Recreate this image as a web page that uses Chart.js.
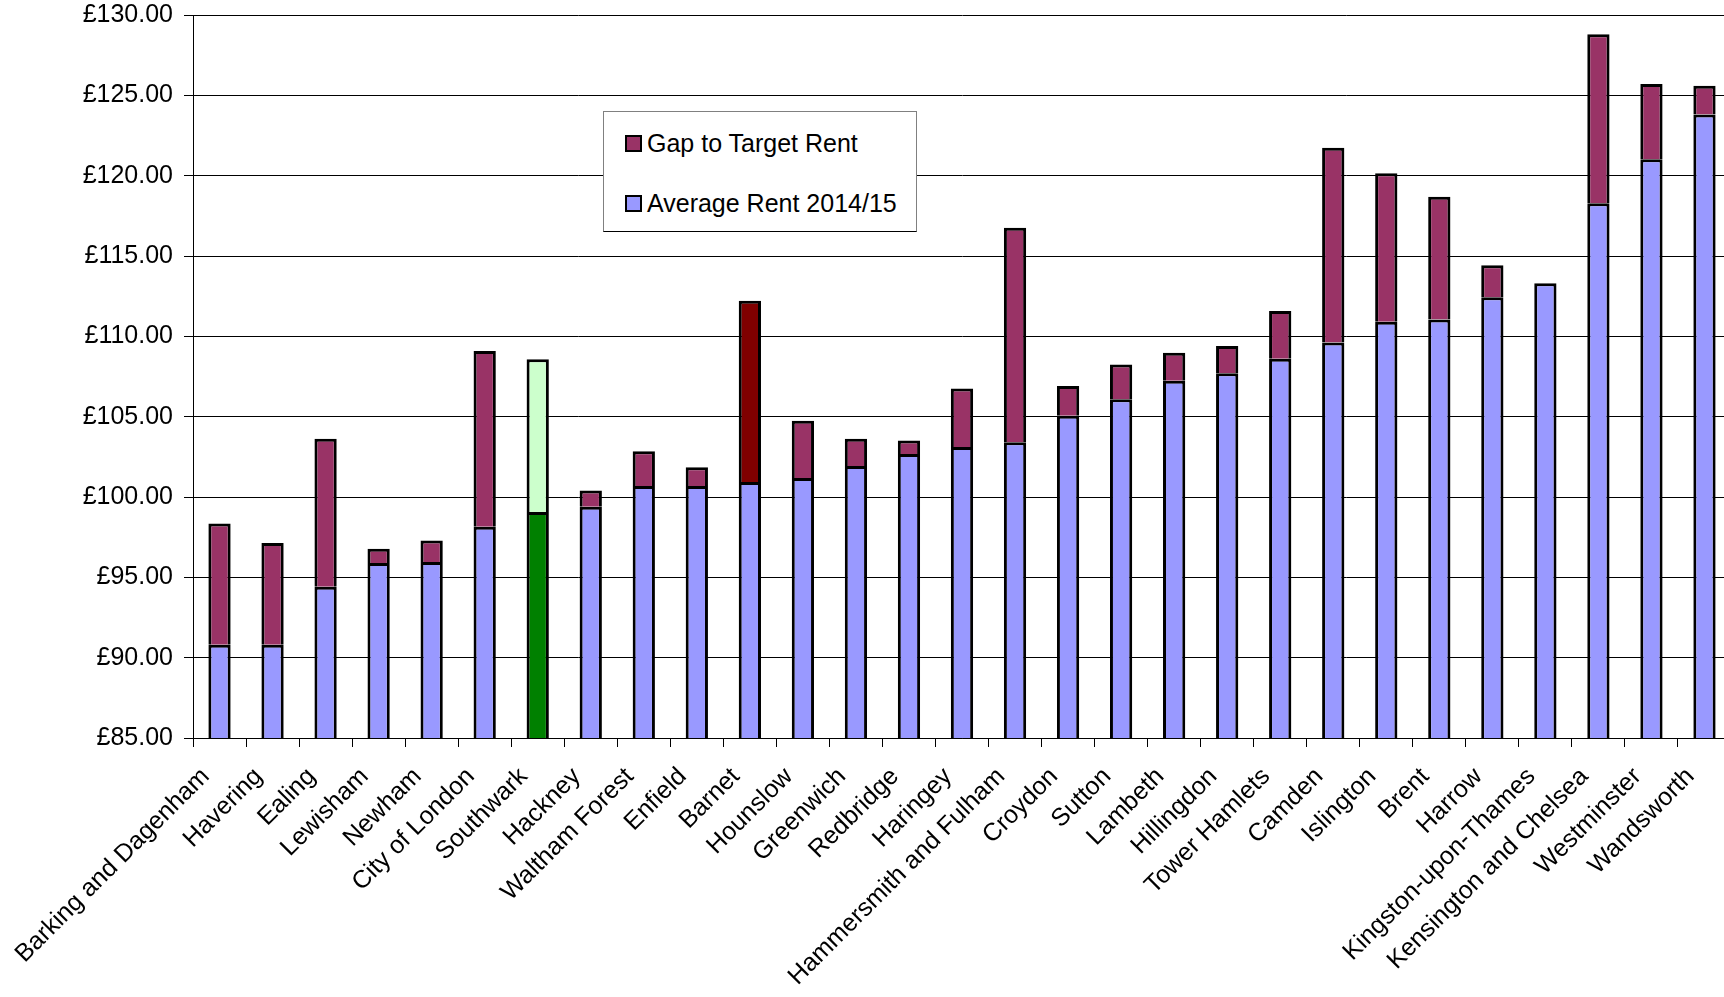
<!DOCTYPE html>
<html>
<head>
<meta charset="utf-8">
<script src="https://cdn.jsdelivr.net/npm/chart.js@4.4.1/dist/chart.umd.min.js"></script>
<style>
  html, body { margin: 0; padding: 0; background: #fff; overflow: hidden; }
  #wrap { position: relative; width: 1731px; height: 997px; }
  #legend {
    position: absolute; left: 603px; top: 111px; width: 312px; height: 119px;
    background: #fff; border: 1px solid #808080; border-bottom-color: #000;
    font-family: "Liberation Sans", Arial, sans-serif; font-size: 25px; color: #000;
  }
  .item { position: absolute; left: 21px; height: 30px; line-height: 30px; white-space: nowrap; }
  .sw { display: inline-block; width: 13px; height: 13px; border: 2px solid #000; vertical-align: middle; margin-right: 5px; position: relative; top: -2px; }
</style>
</head>
<body>
<div id="wrap">
  <canvas id="c" width="1731" height="997"></canvas>
  <div id="legend">
    <div class="item" style="top:16px"><span class="sw" style="background:#993366"></span>Gap to Target Rent</div>
    <div class="item" style="top:76px"><span class="sw" style="background:#9999FF"></span>Average Rent 2014/15</div>
  </div>
</div>
<script>
const categories = [
  "Barking and Dagenham", "Havering", "Ealing", "Lewisham", "Newham", "City of London",
  "Southwark", "Hackney", "Waltham Forest", "Enfield", "Barnet", "Hounslow", "Greenwich",
  "Redbridge", "Haringey", "Hammersmith and Fulham", "Croydon", "Sutton", "Lambeth",
  "Hillingdon", "Tower Hamlets", "Camden", "Islington", "Brent", "Harrow",
  "Kingston-upon-Thames", "Kensington and Chelsea", "Westminster", "Wandsworth"
];
const averageRent = [
  90.80, 90.80, 94.42, 95.89, 95.95, 98.15,
  99.07, 99.40, 100.68, 100.68, 100.93, 101.18, 101.93,
  102.68, 103.11, 103.40, 105.06, 106.08, 107.24,
  107.70, 108.61, 109.61, 110.91, 111.04, 112.43,
  113.30, 118.28, 121.02, 123.80
];
const gapToTarget = [
  7.55, 6.34, 9.21, 0.89, 1.35, 10.94,
  9.50, 1.01, 2.16, 1.17, 11.29, 3.57, 1.70,
  0.83, 3.65, 13.36, 1.85, 2.16, 1.74,
  1.70, 2.97, 12.13, 9.24, 7.65, 1.99,
  0.00, 10.52, 4.69, 1.80
];
const yMin = 85, yMax = 130, yStep = 5;

const AVG = '#9999FF', GAP = '#993366';
const avgColors = categories.map(c => c === 'Southwark' ? '#008000' : AVG);
const gapColors = categories.map(c => c === 'Southwark' ? '#CCFFCC' : (c === 'Barnet' ? '#800000' : GAP));

const FONT = { family: '"Liberation Sans", Arial, sans-serif', size: 25 };
const barStyle = { borderColor: '#000', borderWidth: 3, borderSkipped: 'bottom',
                   categoryPercentage: 1, barPercentage: 0.42 };

new Chart(document.getElementById('c'), {
  type: 'bar',
  data: {
    labels: categories,
    datasets: [
      Object.assign({ label: 'Average Rent 2014/15', data: averageRent, backgroundColor: avgColors }, barStyle),
      Object.assign({ label: 'Gap to Target Rent', data: gapToTarget, backgroundColor: gapColors }, barStyle)
    ]
  },
  options: {
    responsive: false,
    animation: false,
    events: [],
    layout: { padding: { top: 15, left: 0, right: 0, bottom: 0 } },
    plugins: { legend: { display: false }, tooltip: { enabled: false }, title: { display: false } },
    scales: {
      x: {
        stacked: true,
        grid: { display: true, drawOnChartArea: false, drawTicks: true, tickLength: 9, color: '#000', lineWidth: 1 },
        border: { display: true, color: '#000', width: 1 },
        ticks: { color: '#000', font: FONT, minRotation: 45, maxRotation: 45, autoSkip: false,
                 padding: 15, labelOffset: -14 },
        afterFit: (s) => { s.height = 259; s.paddingLeft = 0; s.paddingRight = 0; }
      },
      y: {
        stacked: true,
        min: yMin, max: yMax,
        grid: { color: '#000', lineWidth: 1, tickLength: 9, drawTicks: true },
        border: { display: true, color: '#000', width: 1 },
        ticks: { stepSize: yStep, color: '#000', font: FONT, padding: 11,
                 callback: v => '£' + Number(v).toFixed(2) },
        afterFit: (s) => { s.width = 193; s.paddingTop = 0; s.paddingBottom = 0; }
      }
    }
  }
});
</script>
</body>
</html>
